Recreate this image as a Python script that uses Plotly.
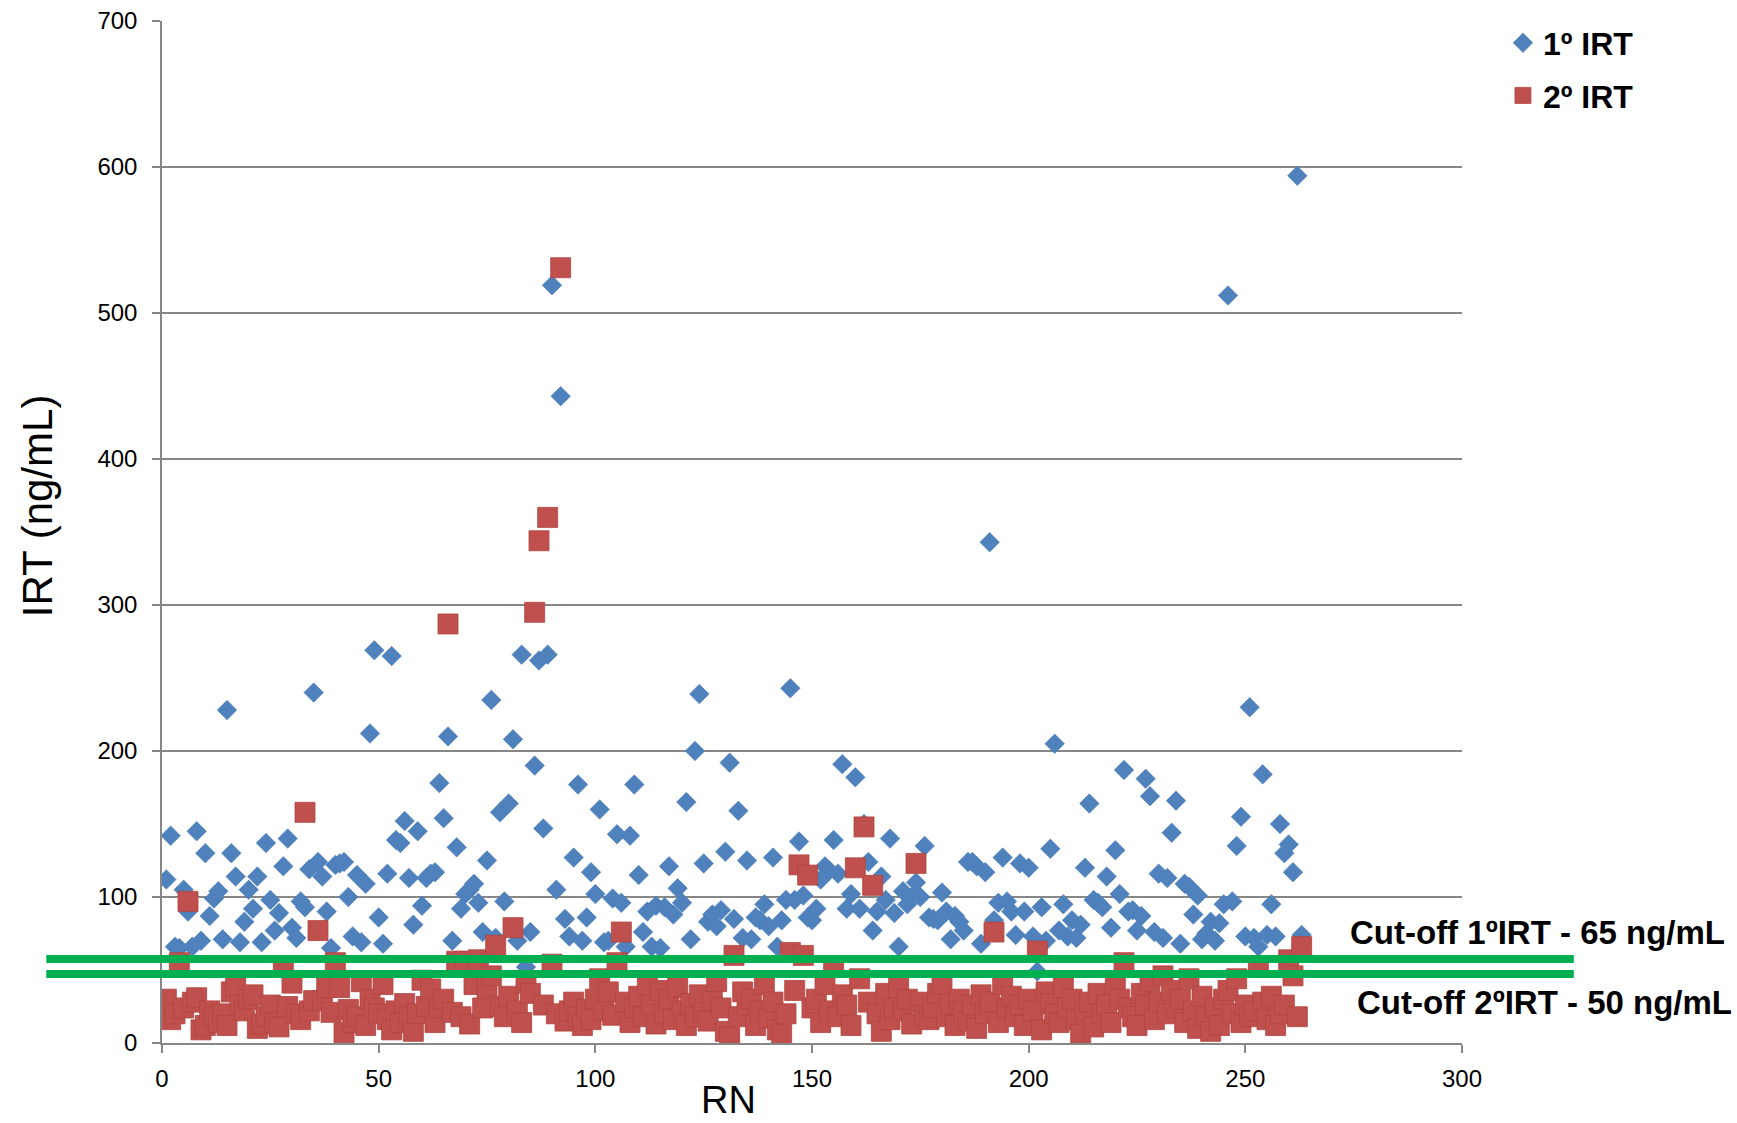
import plotly.graph_objects as go

rn = list(range(1, 264))

irt1 = [
    112, 142, 66, 65, 105, 90, 66, 145, 70, 130,
    87, 99, 104, 71, 228, 130, 114, 69, 83, 105,
    92, 114, 69, 137, 98, 77, 89, 121, 140, 79,
    72, 97, 93, 119, 240, 124, 114, 90, 65, 122,
    123, 124, 100, 73, 115, 69, 109, 212, 269, 86,
    68, 116, 265, 139, 137, 152, 113, 81, 145, 94,
    113, 116, 117, 178, 154, 210, 70, 134, 92, 102,
    105, 109, 96, 76, 125, 235, 72, 158, 97, 164,
    208, 70, 266, 52, 76, 190, 262, 147, 266, 519,
    105, 443, 85, 73, 127, 177, 70, 86, 117, 102,
    160, 69, 70, 99, 143, 96, 66, 142, 177, 115,
    76, 90, 66, 94, 65, 93, 121, 88, 106, 96,
    165, 71, 200, 239, 123, 83, 88, 80, 91, 131,
    192, 85, 159, 72, 125, 71, 86, 84, 95, 80,
    127, 66, 84, 98, 243, 98, 138, 101, 86, 84,
    92, 112, 121, 118, 139, 116, 191, 92, 102, 182,
    92, 150, 124, 77, 90, 114, 98, 140, 89, 66,
    104, 95, 100, 110, 100, 135, 86, 85, 84, 103,
    90, 71, 87, 83, 77, 124, 124, 121, 68, 117,
    343, 84, 96, 127, 97, 90, 74, 123, 90, 120,
    73, 49, 93, 70, 133, 205, 77, 95, 73, 84,
    72, 81, 120, 164, 98, 96, 93, 114, 79, 132,
    102, 187, 90, 91, 77, 87, 181, 169, 76, 116,
    72, 113, 144, 166, 68, 109, 107, 88, 101, 71,
    75, 83, 70, 82, 95, 512, 97, 135, 155, 73,
    230, 72, 66, 184, 74, 95, 73, 150, 130, 136,
    117, 594, 74,
]

irt2 = [
    30, 16, 20, 55, 24, 97, 28, 31, 9, 12,
    22, 18, 14, 20, 12, 35, 38, 26, 22, 30,
    33, 10, 13, 18, 26, 14, 11, 52, 25, 41,
    20, 16, 158, 22, 29, 77, 29, 38, 21, 55,
    38, 7, 23, 14, 18, 42, 12, 30, 24, 20,
    40, 16, 9, 22, 14, 27, 18, 8, 20, 43,
    25, 37, 14, 24, 30, 287, 21, 56, 18, 56,
    13, 40, 57, 24, 38, 46, 67, 25, 18, 32,
    79, 22, 14, 41, 34, 295, 344, 26, 360, 54,
    20, 531, 15, 22, 28, 18, 12, 23, 16, 30,
    44, 22, 35, 19, 55, 76, 28, 14, 24, 32,
    18, 40, 26, 13, 36, 20, 30, 16, 38, 22,
    12, 27, 18, 33, 21, 15, 29, 42, 24, 8,
    4, 60, 18, 35, 26, 30, 12, 22, 40, 17,
    28, 9, 6, 20, 62, 36, 122, 60, 115, 24,
    30, 14, 40, 22, 52, 18, 33, 26, 12, 120,
    44, 148, 28, 108, 20, 8, 34, 16, 24, 38,
    22, 30, 13, 123, 28, 19, 16, 24, 34, 40,
    18, 27, 12, 30, 22, 15, 26, 10, 33, 20,
    28, 76, 14, 40, 24, 32, 18, 26, 12, 30,
    22, 63, 9, 35, 27, 20, 14, 38, 24, 30,
    16, 6, 22, 28, 11, 34, 20, 26, 14, 40,
    30, 55, 24, 18, 12, 34, 26, 42, 16, 28,
    46, 20, 36, 24, 30, 14, 44, 22, 10, 32,
    18, 8, 24, 12, 30, 36, 20, 44, 14, 26,
    18, 22, 53, 28, 16, 32, 12, 20, 26, 57,
    46, 18, 66,
]

cutoff_lines = [57.5, 47.3]
cutoff_labels = ["Cut-off 1ºIRT - 65 ng/mL", "Cut-off 2ºIRT - 50 ng/mL"]
cutoff_label_y = [76, 28]
x_ticks = [0, 50, 100, 150, 200, 250, 300]
y_ticks = [0, 100, 200, 300, 400, 500, 600, 700]

FONT = "Liberation Sans, Arial, sans-serif"
GRID = "#878787"

fig = go.Figure()
fig.add_trace(go.Scatter(
    x=rn, y=irt1, mode="markers", name="1º IRT", legendgroup="a",
    marker=dict(symbol="diamond", size=15, color="#4F81BD",
                line=dict(color="#4A7EBB", width=0.6)),
))
fig.add_trace(go.Scatter(
    x=rn, y=irt2, mode="markers", name="2º IRT", legendgroup="b",
    marker=dict(symbol="square", size=20, color="#C0504D",
                line=dict(color="#B0443F", width=0.8)),
))

for yv in cutoff_lines:
    fig.add_shape(type="line", xref="paper", yref="y",
                  x0=-0.089, x1=1.086, y0=yv, y1=yv,
                  line=dict(color="#00B050", width=8), layer="above")

for txt, yv, xp in zip(cutoff_labels, cutoff_label_y, [0.9125, 0.9175]):
    fig.add_annotation(text=f"<b>{txt}</b>", xref="paper", yref="y",
                       x=xp, y=yv, xanchor="left", yanchor="middle",
                       showarrow=False, font=dict(family=FONT, size=33, color="black"))

fig.add_annotation(text="IRT (ng/mL)", xref="paper", yref="paper",
                   x=-0.0956, y=0.526, textangle=-90, xanchor="center", yanchor="middle",
                   showarrow=False, font=dict(family=FONT, size=42, color="black"))
fig.add_annotation(text="RN", xref="paper", yref="paper",
                   x=0.436, y=-0.0783, xanchor="center", yanchor="bottom",
                   showarrow=False, font=dict(family=FONT, size=38, color="black"))

fig.update_layout(
    width=1737, height=1123,
    margin=dict(l=162, r=275, t=21, b=80, autoexpand=False),
    paper_bgcolor="white", plot_bgcolor="white",
    font=dict(family=FONT, color="black"),
    showlegend=True,
    legend=dict(x=1.0315, y=1.0054, xanchor="left", yanchor="top",
                font=dict(family=FONT, size=32, color="black", weight="bold"),
                bgcolor="rgba(0,0,0,0)", traceorder="grouped", tracegroupgap=8,
                itemsizing="trace"),
)
fig.update_xaxes(range=[0, 300], tickvals=x_ticks, showgrid=False, zeroline=False,
                 showline=True, linecolor=GRID, linewidth=1.5,
                 ticks="outside", ticklen=8, tickcolor=GRID, tickwidth=1.5,
                 ticklabelstandoff=5,
                 tickfont=dict(family=FONT, size=24, color="black"))
fig.update_yaxes(range=[0, 700], tickvals=y_ticks, showgrid=True, gridcolor=GRID, gridwidth=1.5,
                 zeroline=False, showline=True, linecolor=GRID, linewidth=1.5,
                 ticks="outside", ticklen=8, tickcolor=GRID, tickwidth=1.5,
                 ticklabelstandoff=10,
                 tickfont=dict(family=FONT, size=24, color="black"))

fig.write_html("out.html")
